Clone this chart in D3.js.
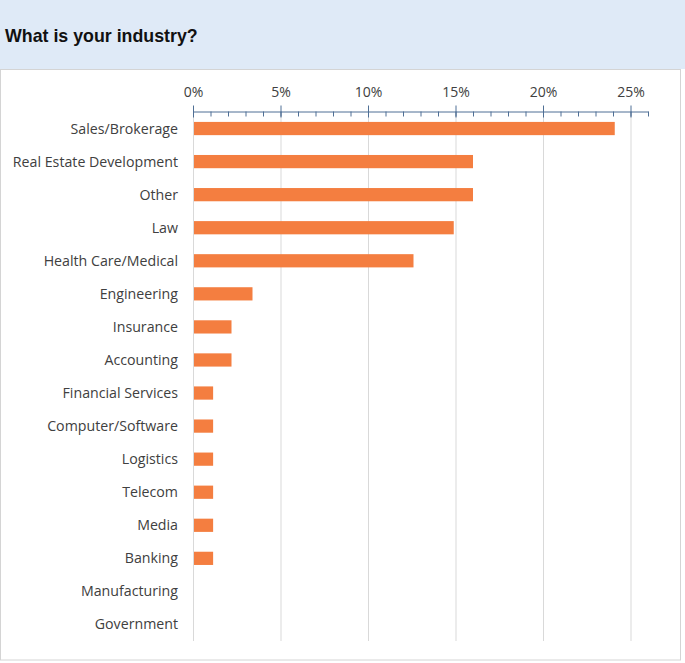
<!DOCTYPE html>
<html>
<head>
<meta charset="utf-8">
<script src="https://cdn.jsdelivr.net/npm/d3@7"></script>
<style>
  body { margin: 0; background: #fff; }
  svg { display: block; }
</style>
</head>
<body>
<svg id="chart" width="685" height="663"></svg>
<script>
// survey answers, share of respondents
var industries = ["Sales/Brokerage", "Real Estate Development", "Other", "Law", "Health Care/Medical",
    "Engineering", "Insurance", "Accounting", "Financial Services", "Computer/Software",
    "Logistics", "Telecom", "Media", "Banking", "Manufacturing", "Government"]
var shares = [0.241, 0.16, 0.16, 0.149, 0.126, 0.034, 0.022, 0.022, 0.0115, 0.0115,
    0.0115, 0.0115, 0.0115, 0.0115, 0, 0]
var majorTicks = [0, 0.05, 0.10, 0.15, 0.20, 0.25]

var svg = d3.select("#chart")

// header band + panel
svg.append("rect").attr("x", 0).attr("y", 0).attr("width", 685).attr("height", 69).attr("fill", "#dfeaf7")
svg.append("rect").attr("x", 0.5).attr("y", 69.5).attr("width", 680).attr("height", 590.5)
    .attr("fill", "#fff").attr("stroke", "#d4d4d4")
svg.append("text").attr("x", 5).attr("y", 42)
    .attr("font-family", "Liberation Sans, Arial, sans-serif").attr("font-weight", "bold")
    .attr("font-size", 17.8).attr("fill", "#111")
    .text("What is your industry?")

var margin = { top: 112, left: 193, right: 648, bottom: 641 }

var x = d3.scaleLinear().domain([0, 0.26]).range([margin.left, margin.right])
var y = d3.scaleBand().domain(industries).range([margin.top, margin.bottom]).paddingInner(0.6).paddingOuter(0.3)

// gridlines
svg.append("g").selectAll("line").data(majorTicks).enter().append("line")
    .attr("x1", d => x(d) + 0.5).attr("x2", d => x(d) + 0.5)
    .attr("y1", margin.top).attr("y2", margin.bottom)
    .attr("stroke", "#d9d9d9")

// bars
svg.append("g").selectAll("rect").data(industries).enter().append("rect")
    .attr("x", x(0) + 1)
    .attr("y", d => y(d))
    .attr("width", (d, i) => Math.max(0, x(shares[i]) - x(0) - 1))
    .attr("height", y.bandwidth())
    .attr("fill", "#f47e40")

// top axis: minor ticks every 1%, major every 5%
var axisColor = "#4f6f95"
var minor = svg.append("g").attr("transform", "translate(0," + (margin.top - 0.5) + ")")
    .call(d3.axisBottom(x).tickValues(d3.range(0, 27).map(d => d / 100)).tickSize(5).tickFormat(""))
minor.select(".domain").remove()
minor.selectAll("line").attr("stroke", axisColor)

var major = svg.append("g").attr("transform", "translate(0," + (margin.top - 0.5) + ")")
    .call(d3.axisTop(x).tickValues(majorTicks).tickSize(6).tickSizeOuter(0).tickFormat(d3.format(".0%")))
major.select(".domain").attr("stroke", axisColor)
major.selectAll(".tick line").attr("stroke", axisColor).attr("y2", -6).attr("y1", 6)
major.selectAll("text").attr("y", -15).attr("font-family", "Open Sans, sans-serif")
    .attr("font-size", 14).attr("fill", "#404040")

// category labels
svg.append("g").selectAll("text").data(industries).enter().append("text")
    .attr("x", 178)
    .attr("y", d => y(d) + y.bandwidth() / 2)
    .attr("dy", "0.35em")
    .attr("text-anchor", "end")
    .attr("font-family", "Open Sans, sans-serif")
    .attr("font-size", 14.2)
    .attr("fill", "#404040")
    .text(d => d)
</script>
</body>
</html>
